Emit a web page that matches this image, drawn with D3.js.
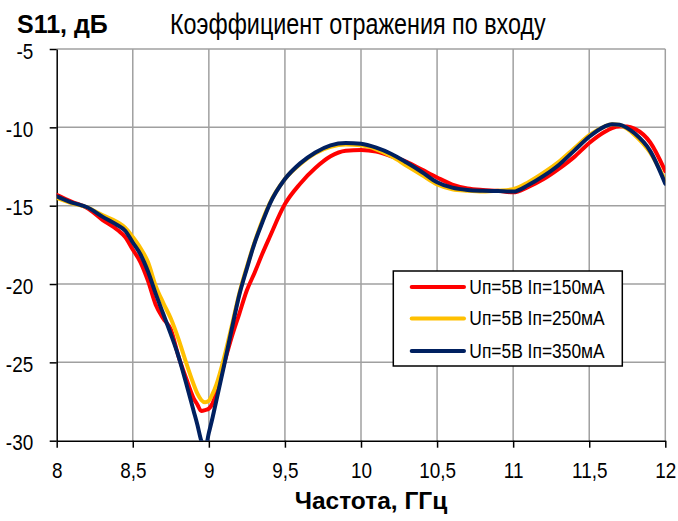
<!DOCTYPE html>
<html>
<head>
<meta charset="utf-8">
<script src="https://cdn.jsdelivr.net/npm/d3@7"></script>
<style>
  html, body { margin: 0; padding: 0; background: #fff; }
  svg { display: block; }
  .narrow { font-family: "Liberation Sans", Arial, sans-serif; }
  .bold { font-family: "Liberation Sans", Arial, sans-serif; font-weight: bold; }
</style>
</head>
<body>
<svg id="chart" width="678" height="521"></svg>
<script>
// Frequency points, GHz
const freq = [
  8.0, 8.1, 8.2, 8.3, 8.4, 8.45, 8.5, 8.55, 8.6, 8.65,
  8.7, 8.75, 8.8, 8.85, 8.9, 8.925, 8.95, 8.975, 9.0, 9.025,
  9.05, 9.1, 9.15, 9.2, 9.25, 9.3, 9.35, 9.4, 9.5, 9.6,
  9.7, 9.8, 9.9, 10.0, 10.1, 10.2, 10.3, 10.4, 10.5, 10.6,
  10.7, 10.8, 10.9, 11.0, 11.1, 11.2, 11.3, 11.4, 11.5, 11.6,
  11.65, 11.7, 11.75, 11.8, 11.9, 12.0
];

// S11, dB — Uп=5В Iп=150мА
const s11_150 = [
  -14.3, -14.75, -15.15, -15.9, -16.55, -17.0, -17.8, -18.6, -19.8, -21.3,
  -22.2, -22.9, -24.6, -26.0, -27.3, -27.7, -28.1, -28.05, -27.95, -27.6,
  -26.9, -25.1, -23.4, -21.9, -20.4, -19.3, -18.1, -17.0, -14.9, -13.6,
  -12.6, -11.85, -11.5, -11.45, -11.55, -11.85, -12.2, -12.7, -13.2, -13.65,
  -13.9, -14.0, -14.05, -14.15, -13.8, -13.3, -12.65, -11.9, -11.0, -10.3,
  -10.05, -9.95, -9.95, -10.1, -10.95, -12.8
];

// S11, dB — Uп=5В Iп=250мА
const s11_250 = [
  -14.5, -14.85, -15.1, -15.6, -16.05, -16.4, -17.0, -17.7, -18.6, -20.1,
  -21.2, -22.2, -23.5, -25.0, -26.4, -27.0, -27.4, -27.55, -27.45, -27.0,
  -26.4, -24.7, -22.7, -20.6, -18.9, -17.35, -16.0, -14.85, -13.3, -12.35,
  -11.65, -11.25, -11.1, -11.15, -11.4, -11.85, -12.45, -13.05, -13.65, -13.95,
  -14.05, -14.1, -14.05, -13.95, -13.5, -12.9, -12.2, -11.35, -10.5, -9.95,
  -9.8, -9.85, -10.1, -10.5, -11.6, -13.4
];

// S11, dB — Uп=5В Iп=350мА
const s11_350 = [
  -14.4, -14.8, -15.1, -15.7, -16.25, -16.6, -17.35, -18.1, -19.2, -20.6,
  -21.9, -23.2, -24.6, -26.3, -28.1, -29.0, -30.0, -30.5, -29.5, -28.5,
  -27.4, -25.2, -22.9, -20.7, -19.0, -17.4, -16.1, -14.9, -13.3, -12.3,
  -11.6, -11.15, -11.0, -11.05, -11.3, -11.7, -12.25, -12.85, -13.5, -13.85,
  -14.0, -14.05, -14.07, -14.1, -13.68, -13.1, -12.4, -11.5, -10.6, -9.95,
  -9.8, -9.83, -10.05, -10.4, -11.5, -13.6
];

const seriesNames = ["Uп=5В Iп=150мА", "Uп=5В Iп=250мА", "Uп=5В Iп=350мА"];
const seriesColors = ["#ff0000", "#ffc000", "#002060"];
const seriesValues = [s11_150, s11_250, s11_350];

const xTicks = [8, 8.5, 9, 9.5, 10, 10.5, 11, 11.5, 12];
const yTicks = [-5, -10, -15, -20, -25, -30];
const fmt = v => String(v).replace(".", ",");

const titleText = "Коэффициент отражения по входу";
const yLabel = "S11, дБ";
const xLabel = "Частота, ГГц";

// Layout
const plot = { left: 56.7, right: 665.3, top: 49, bottom: 440.7 };
const x = d3.scaleLinear().domain([8, 12]).range([plot.left, plot.right]);
const y = d3.scaleLinear().domain([-30, -5]).range([plot.bottom, plot.top]);

// Horizontally condensed text: move the anchor point into a transform,
// then squeeze glyphs around it.
function condense(sel, sx) {
  sel.each(function () {
    const t = d3.select(this);
    const tx = +t.attr("x") || 0;
    const ty = +t.attr("y") || 0;
    t.attr("x", 0).attr("y", 0)
     .attr("transform", `translate(${tx},${ty}) scale(${sx},1)`);
  });
}

const svg = d3.select("#chart");

svg.append("defs").append("clipPath").attr("id", "plotClip")
  .append("rect")
  .attr("x", plot.left).attr("y", plot.top)
  .attr("width", plot.right - plot.left).attr("height", plot.bottom - plot.top);

// Grid
const grid = svg.append("g").attr("stroke", "#a0a0a0").attr("stroke-width", 1.5);
grid.selectAll("line.vx").data(xTicks.slice(1)).join("line")
  .attr("x1", d => x(d)).attr("x2", d => x(d))
  .attr("y1", plot.top).attr("y2", plot.bottom);
grid.selectAll("line.hy").data(yTicks.slice(0, -1)).join("line")
  .attr("y1", d => y(d)).attr("y2", d => y(d))
  .attr("x1", plot.left).attr("x2", plot.right);

// Axes
const xAxis = svg.append("g")
  .attr("transform", `translate(0,${plot.bottom})`)
  .call(d3.axisBottom(x).tickValues(xTicks).tickFormat(fmt).tickSize(7).tickPadding(15).tickSizeOuter(0));
const yAxis = svg.append("g")
  .attr("transform", `translate(${plot.left},0)`)
  .call(d3.axisLeft(y).tickValues(yTicks).tickFormat(fmt).tickSize(7).tickPadding(16.5).tickSizeOuter(0));

[xAxis, yAxis].forEach(g => {
  g.select(".domain").attr("stroke", "#000").attr("stroke-width", 1.5);
  g.selectAll(".tick line").attr("stroke", "#000").attr("stroke-width", 1.5);
  g.selectAll(".tick text")
    .attr("class", "narrow")
    .attr("fill", "#000")
    .style("font-size", "22px");
});
yAxis.selectAll(".tick text").attr("dy", "0.42em");
condense(xAxis.selectAll(".tick text"), 0.86);
condense(yAxis.selectAll(".tick text"), 0.86);

// Curves
const line = d3.line()
  .x((d, i) => x(freq[i]))
  .y(d => y(d))
  .curve(d3.curveMonotoneX);

svg.append("g").attr("clip-path", "url(#plotClip)")
  .selectAll("path").data(seriesValues).join("path")
  .attr("d", d => line(d))
  .attr("fill", "none")
  .attr("stroke", (d, i) => seriesColors[i])
  .attr("stroke-width", 4)
  .attr("stroke-linejoin", "round")
  .attr("stroke-linecap", "round");

// Titles
svg.append("text").attr("class", "bold")
  .attr("x", 17).attr("y", 33).style("font-size", "25px")
  .text(yLabel);
svg.append("text").attr("class", "narrow")
  .attr("x", 170).attr("y", 33.5).style("font-size", "29px")
  .text(titleText)
  .call(condense, 0.805);
svg.append("text").attr("class", "bold")
  .attr("x", 371).attr("y", 508.5).attr("text-anchor", "middle").style("font-size", "24.5px")
  .text(xLabel);

// Legend
const legend = svg.append("g");
legend.append("rect")
  .attr("x", 393.3).attr("y", 271).attr("width", 229).attr("height", 95)
  .attr("fill", "#fff").attr("stroke", "#000").attr("stroke-width", 1.5);
const rowY = [287, 318.5, 351];
const rows = legend.selectAll("g.row").data(seriesNames).join("g")
  .attr("transform", (d, i) => `translate(0,${rowY[i]})`);
rows.append("line")
  .attr("x1", 411.7).attr("x2", 464).attr("y1", 0).attr("y2", 0)
  .attr("stroke", (d, i) => seriesColors[i]).attr("stroke-width", 4)
  .attr("stroke-linecap", "round");
rows.append("text").attr("class", "narrow")
  .attr("x", 469.3).attr("y", 6.8).style("font-size", "21px")
  .text(d => d)
  .call(condense, 0.83);
</script>
</body>
</html>
